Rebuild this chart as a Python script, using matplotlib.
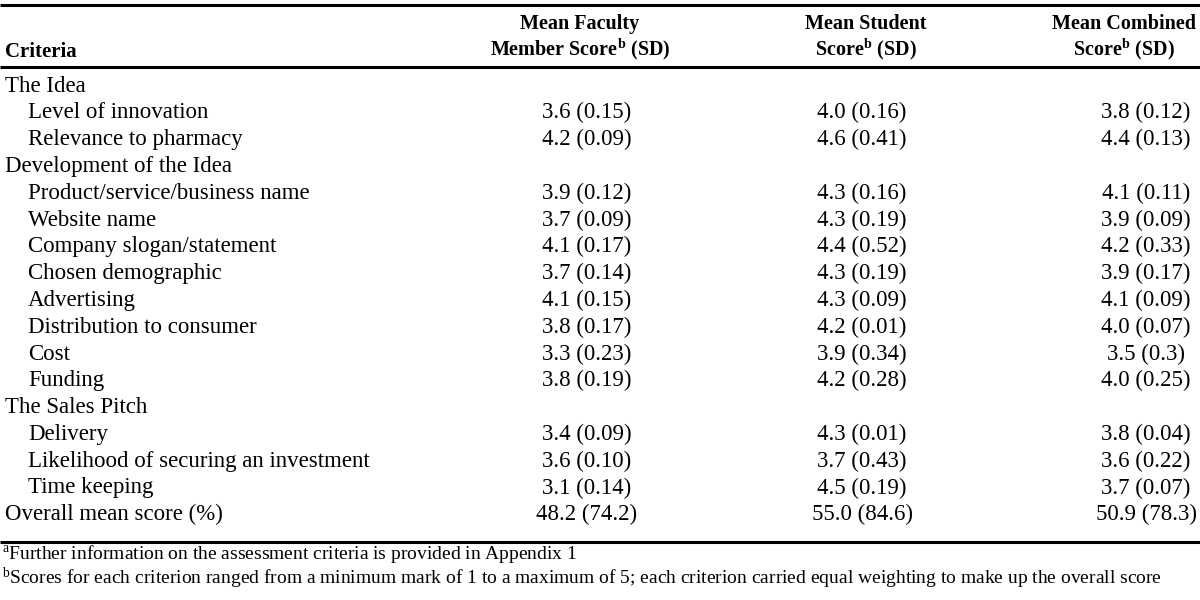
import matplotlib
matplotlib.use("Agg")
import matplotlib.pyplot as plt

## table content ##
criteria = [
    "The Idea", "Level of innovation", "Relevance to pharmacy",
    "Development of the Idea", "Product/service/business name", "Website name",
    "Company slogan/statement", "Chosen demographic", "Advertising",
    "Distribution to consumer", "Cost", "Funding",
    "The Sales Pitch", "Delivery", "Likelihood of securing an investment",
    "Time keeping", "Overall mean score (%)",
]
indent = [0, 1, 1, 0, 1, 1, 1, 1, 1, 1, 1, 1, 0, 1, 1, 1, 0]
faculty = ["", "3.6 (0.15)", "4.2 (0.09)", "", "3.9 (0.12)", "3.7 (0.09)",
           "4.1 (0.17)", "3.7 (0.14)", "4.1 (0.15)", "3.8 (0.17)", "3.3 (0.23)",
           "3.8 (0.19)", "", "3.4 (0.09)", "3.6 (0.10)", "3.1 (0.14)", "48.2 (74.2)"]
student = ["", "4.0 (0.16)", "4.6 (0.41)", "", "4.3 (0.16)", "4.3 (0.19)",
           "4.4 (0.52)", "4.3 (0.19)", "4.3 (0.09)", "4.2 (0.01)", "3.9 (0.34)",
           "4.2 (0.28)", "", "4.3 (0.01)", "3.7 (0.43)", "4.5 (0.19)", "55.0 (84.6)"]
combined = ["", "3.8 (0.12)", "4.4 (0.13)", "", "4.1 (0.11)", "3.9 (0.09)",
            "4.2 (0.33)", "3.9 (0.17)", "4.1 (0.09)", "4.0 (0.07)", "3.5 (0.3)",
            "4.0 (0.25)", "", "3.8 (0.04)", "3.6 (0.22)", "3.7 (0.07)", "50.9 (78.3)"]
headers = ["Mean Faculty\nMember Score$^\\mathbf{b}$ (SD)",
           "Mean Student\nScore$^\\mathbf{b}$ (SD)",
           "Mean Combined\nScore$^\\mathbf{b}$ (SD)"]
footnotes = [
    "$^\\mathrm{a}$Further information on the assessment criteria is provided in Appendix 1",
    "$^\\mathrm{b}$Scores for each criterion ranged from a minimum mark of 1 to a maximum of 5; "
    "each criterion carried equal weighting to make up the overall score",
]

plt.rcParams["font.family"] = ["Liberation Serif", "DejaVu Serif"]
plt.rcParams["mathtext.fontset"] = "custom"
plt.rcParams["mathtext.rm"] = "Liberation Serif"
plt.rcParams["mathtext.bf"] = "Liberation Serif:bold"
plt.rcParams["mathtext.it"] = "Liberation Serif:italic"

fig = plt.figure(figsize=(12, 6), dpi=100)
ax = fig.add_axes([0, 0, 1, 1])
ax.set_xlim(0, 1200)
ax.set_ylim(600, 0)
ax.axis("off")

body = 16.5
col_x = [587, 862, 1146]

## rules ##
for y in [5, 67, 542]:
    ax.plot([0, 1200], [y, y], color="black", lw=2.2, solid_capstyle="butt")

## header ##
ax.text(5, 52, "Criteria", fontsize=15, fontweight="bold", va="center", ha="left")
head_x = [580, 866, 1196]
head_ha = ["center", "center", "right"]
for x, ha, h in zip(head_x, head_ha, headers):
    ax.text(x, 38, h, fontsize=14.5, fontweight="bold", va="center", ha=ha,
            multialignment="center", linespacing=1.15)

## body rows ##
for i, name in enumerate(criteria):
    y = 86 + 26.8 * i
    ax.text(5 + 23 * indent[i], y, name, fontsize=body, va="center", ha="left")
    for x, col in zip(col_x, [faculty, student, combined]):
        if col[i]:
            ax.text(x, y, col[i], fontsize=body, va="center", ha="center")

## footnotes ##
ax.text(2, 554, footnotes[0], fontsize=14, va="center", ha="left")
ax.text(2, 578, footnotes[1], fontsize=14, va="center", ha="left")

fig.savefig("out.png", dpi=100, facecolor="white")
